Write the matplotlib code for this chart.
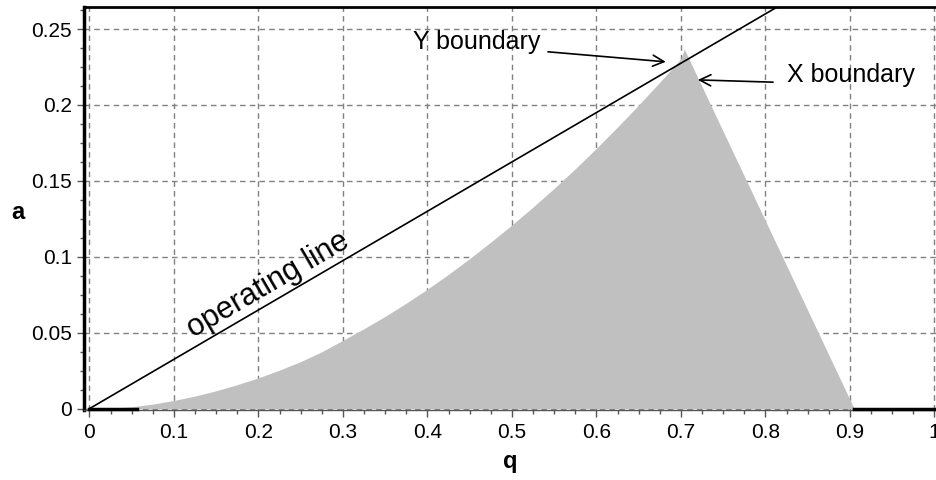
import numpy as np
import matplotlib.pyplot as plt
from matplotlib.ticker import MultipleLocator

plt.rcParams['font.family'] = ['Liberation Sans', 'DejaVu Sans']

# region boundary: rising branch (Y side) up to the peak, then falling branch (X side)
q_region = [0.0, 0.025, 0.05, 0.075, 0.1, 0.125, 0.15, 0.175, 0.2, 0.225,
            0.25, 0.275, 0.3, 0.325, 0.35, 0.375, 0.4, 0.425, 0.45, 0.475,
            0.5, 0.525, 0.55, 0.575, 0.6, 0.625, 0.65, 0.675, 0.7, 0.704,
            0.905]
a_region = [0.0, 0.0003, 0.0012, 0.003, 0.0054, 0.0083, 0.0118, 0.0158, 0.0203, 0.0254,
            0.031, 0.0375, 0.045, 0.0527, 0.0608, 0.0695, 0.0787, 0.0885, 0.0988, 0.1097,
            0.121, 0.1328, 0.1451, 0.158, 0.1715, 0.1855, 0.2, 0.215, 0.2305, 0.2367,
            0.0]

# operating line
op_q = [0.0, 1.0]
op_a = [0.0, 0.325]

# zero-amplitude segments on the q axis
zero_left = [0.0, 0.056]
zero_right = [0.905, 1.0]

fig = plt.figure(figsize=(9.37, 4.8), dpi=100)
ax = fig.add_axes([0.0896, 0.1458, 0.9104, 0.8396])

ax.fill_between(q_region, a_region, 0, color='#c0c0c0', linewidth=0, zorder=2)
ax.plot(op_q, op_a, color='black', linewidth=1.2, zorder=3)
ax.plot(zero_left, [0, 0], color='black', linewidth=2.5, zorder=3, clip_on=False)
ax.plot(zero_right, [0, 0], color='black', linewidth=2.5, zorder=3, clip_on=False)

ax.set_xlim(-0.0065, 1.003)
ax.set_ylim(-0.0009, 0.2645)

xt = np.arange(0, 1.01, 0.1)
ax.set_xticks(xt)
ax.set_xticklabels(['0', '0.1', '0.2', '0.3', '0.4', '0.5', '0.6', '0.7', '0.8', '0.9', '1'])
yt = np.arange(0, 0.26, 0.05)
ax.set_yticks(yt)
ax.set_yticklabels(['0', '0.05', '0.1', '0.15', '0.2', '0.25'])
ax.xaxis.set_minor_locator(MultipleLocator(0.025))
ax.yaxis.set_minor_locator(MultipleLocator(0.0125))

ax.tick_params(which='both', direction='out', colors='#555555', labelcolor='black',
               labelsize=15)
ax.tick_params(which='major', length=5, width=1)
ax.tick_params(which='minor', length=3, width=1)
ax.tick_params(axis='x', pad=4)

ax.grid(True, which='major', color='#808080', linestyle=(0, (4, 3)), linewidth=1)
ax.set_axisbelow(True)

ax.spines['left'].set_linewidth(2.5)
ax.spines['left'].set_color('black')
ax.spines['top'].set_linewidth(2)
ax.spines['top'].set_color('black')
ax.spines['bottom'].set_linewidth(1)
ax.spines['bottom'].set_color('#555555')
ax.spines['right'].set_visible(False)

ax.set_xlabel('q', fontsize=17, fontweight='bold', va='center')
ax.set_ylabel('a', fontsize=17, fontweight='bold', rotation=0, va='center', ha='center')
ax.xaxis.set_label_coords(0.4994, -0.127)
ax.yaxis.set_label_coords(-0.0774, 0.491)

ax.text(0.211, 0.0815, 'operating line', fontsize=22, rotation=30.3,
        ha='center', va='center', rotation_mode='anchor')

ax.text(0.4586, 0.2415, 'Y boundary', fontsize=18, ha='center', va='center')
ax.annotate('', xy=(0.682, 0.2284), xytext=(0.5426, 0.235),
            arrowprops=dict(arrowstyle='->', color='black', lw=1.2,
                            shrinkA=0, shrinkB=0, mutation_scale=20))
ax.text(0.825, 0.2198, 'X boundary', fontsize=18, ha='left', va='center')
ax.annotate('', xy=(0.720, 0.2165), xytext=(0.809, 0.215),
            arrowprops=dict(arrowstyle='->', color='black', lw=1.2,
                            shrinkA=0, shrinkB=0, mutation_scale=20))

fig.savefig('out.png', dpi=100)
